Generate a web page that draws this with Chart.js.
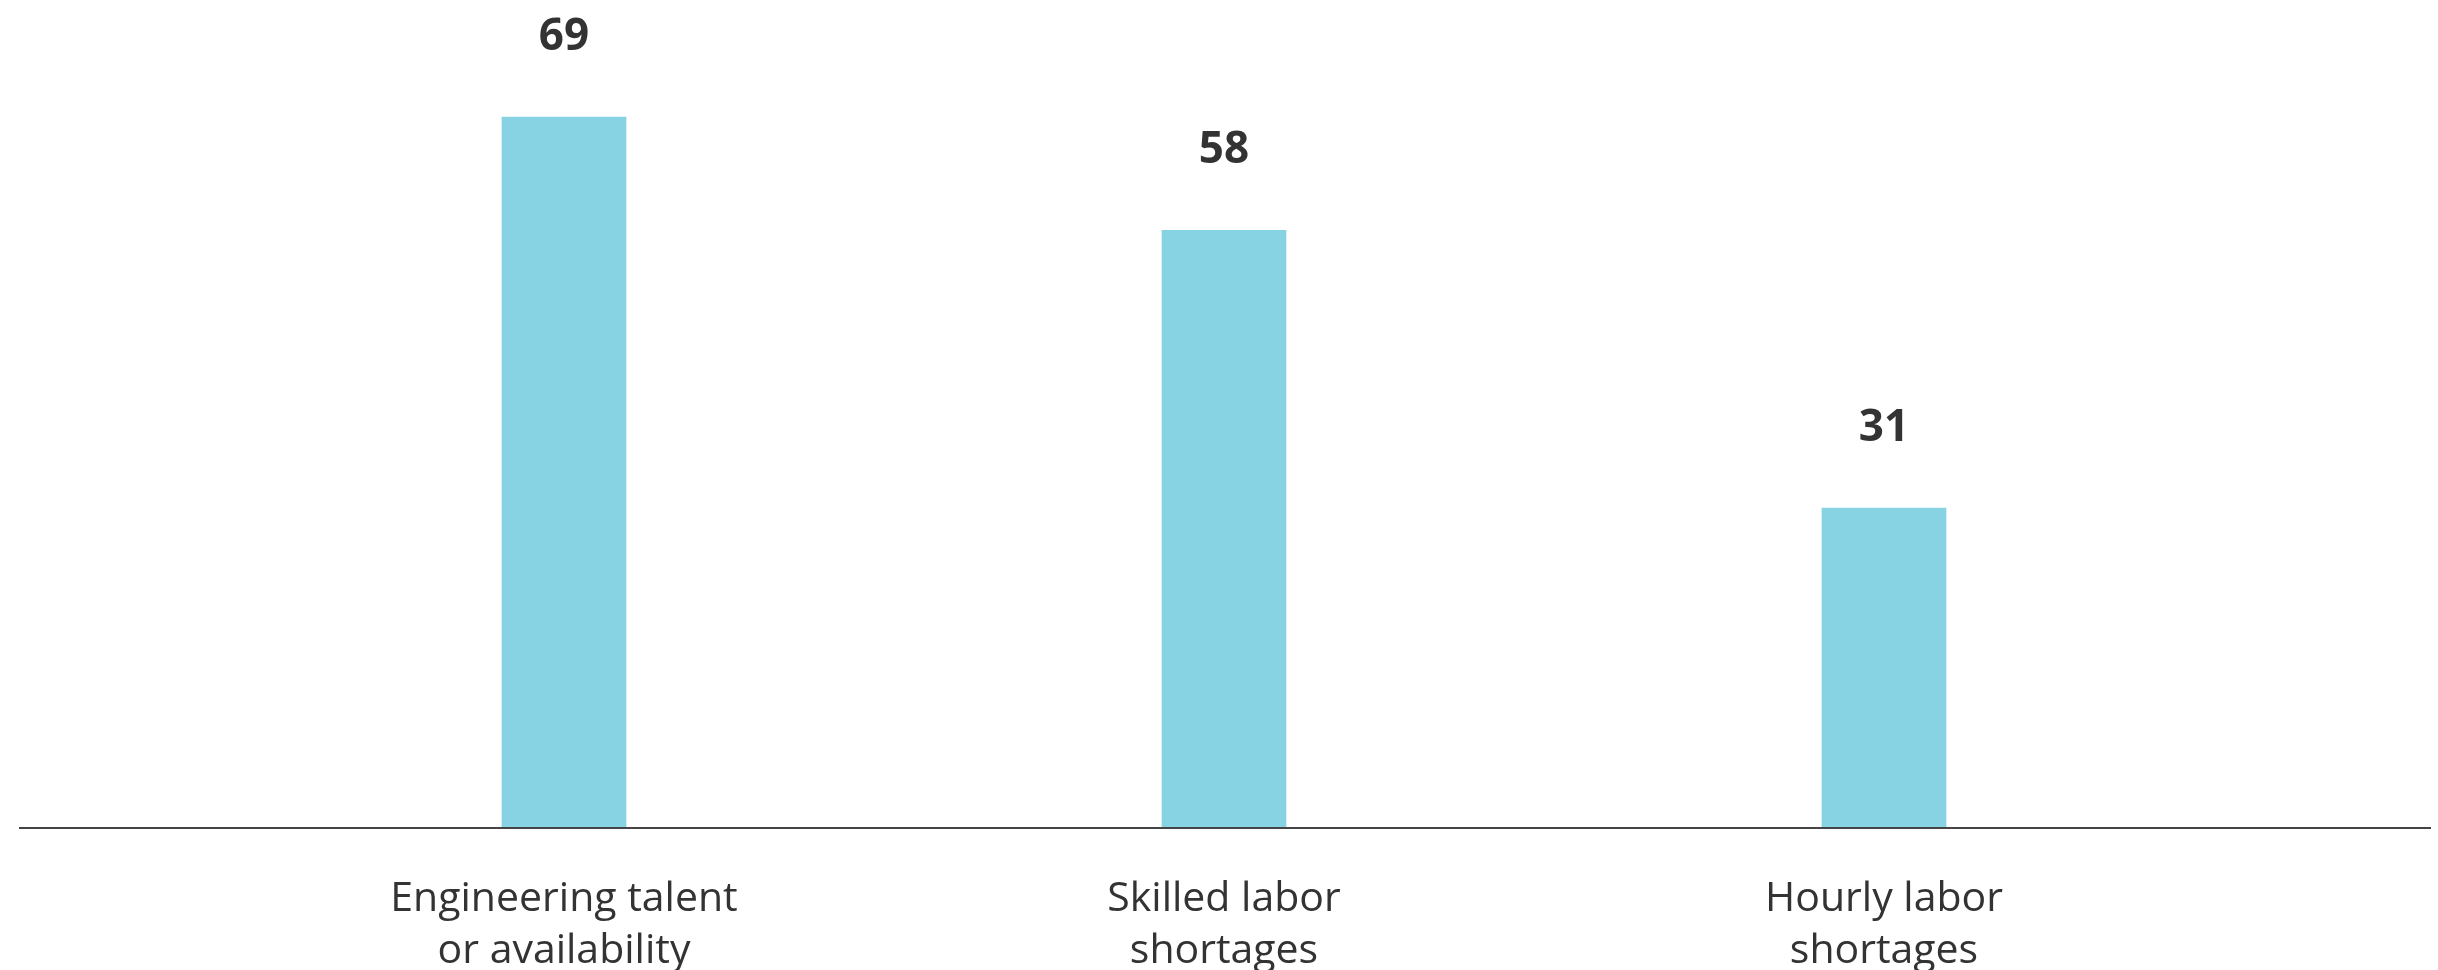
<!DOCTYPE html>
<html>
<head>
<meta charset="utf-8">
<script src="https://cdn.jsdelivr.net/npm/chart.js@4"></script>
<style>
  html, body { margin: 0; padding: 0; background: #ffffff; overflow: hidden; }
  #wrap { width: 2438px; height: 970px; position: relative; }
</style>
</head>
<body>
<div id="wrap"><canvas id="c"></canvas></div>
<script>
const categories = [
  ["Engineering talent", "or availability"],
  ["Skilled labor", "shortages"],
  ["Hourly labor", "shortages"]
];
const values = [69, 58, 31];
const barColor = "#88d3e3";
const textColor = "#333333";

const baselinePlugin = {
  id: "baseline",
  afterDatasetsDraw(chart) {
    const ctx = chart.ctx;
    const y = chart.scales.y.getPixelForValue(0);
    ctx.save();
    ctx.strokeStyle = "#444444";
    ctx.lineWidth = 2;
    ctx.beginPath();
    ctx.moveTo(19, Math.round(y) + 1);
    ctx.lineTo(2431, Math.round(y) + 1);
    ctx.stroke();
    ctx.restore();
  }
};

const valueLabelPlugin = {
  id: "valueLabels",
  afterDatasetsDraw(chart) {
    const ctx = chart.ctx;
    const meta = chart.getDatasetMeta(0);
    ctx.save();
    ctx.font = "bold 44px 'Open Sans', 'Noto Sans', sans-serif";
    ctx.fillStyle = textColor;
    ctx.textAlign = "center";
    ctx.textBaseline = "middle";
    meta.data.forEach((bar, i) => {
      ctx.fillText(String(chart.data.datasets[0].data[i]), bar.x, bar.y - 80);
    });
    ctx.restore();
  }
};

new Chart(document.getElementById("c"), {
  type: "bar",
  data: {
    labels: categories,
    datasets: [{
      data: values,
      backgroundColor: barColor,
      borderWidth: 0,
      barThickness: 124
    }]
  },
  options: {
    responsive: true,
    maintainAspectRatio: false,
    animation: false,
    layout: { padding: { left: 234, right: 224, top: 4, bottom: 0 } },
    plugins: {
      legend: { display: false },
      tooltip: { enabled: false }
    },
    scales: {
      x: {
        grid: { display: false, drawTicks: false },
        border: { display: false },
        afterFit(scale) { scale.height = 143; },
        ticks: {
          padding: 47,
          maxRotation: 0,
          autoSkip: false,
          color: textColor,
          font: { family: "'Open Sans', 'Noto Sans', sans-serif", size: 41, lineHeight: 1.25 }
        }
      },
      y: {
        display: false,
        min: 0,
        max: 80
      }
    }
  },
  plugins: [baselinePlugin, valueLabelPlugin]
});
</script>
</body>
</html>
